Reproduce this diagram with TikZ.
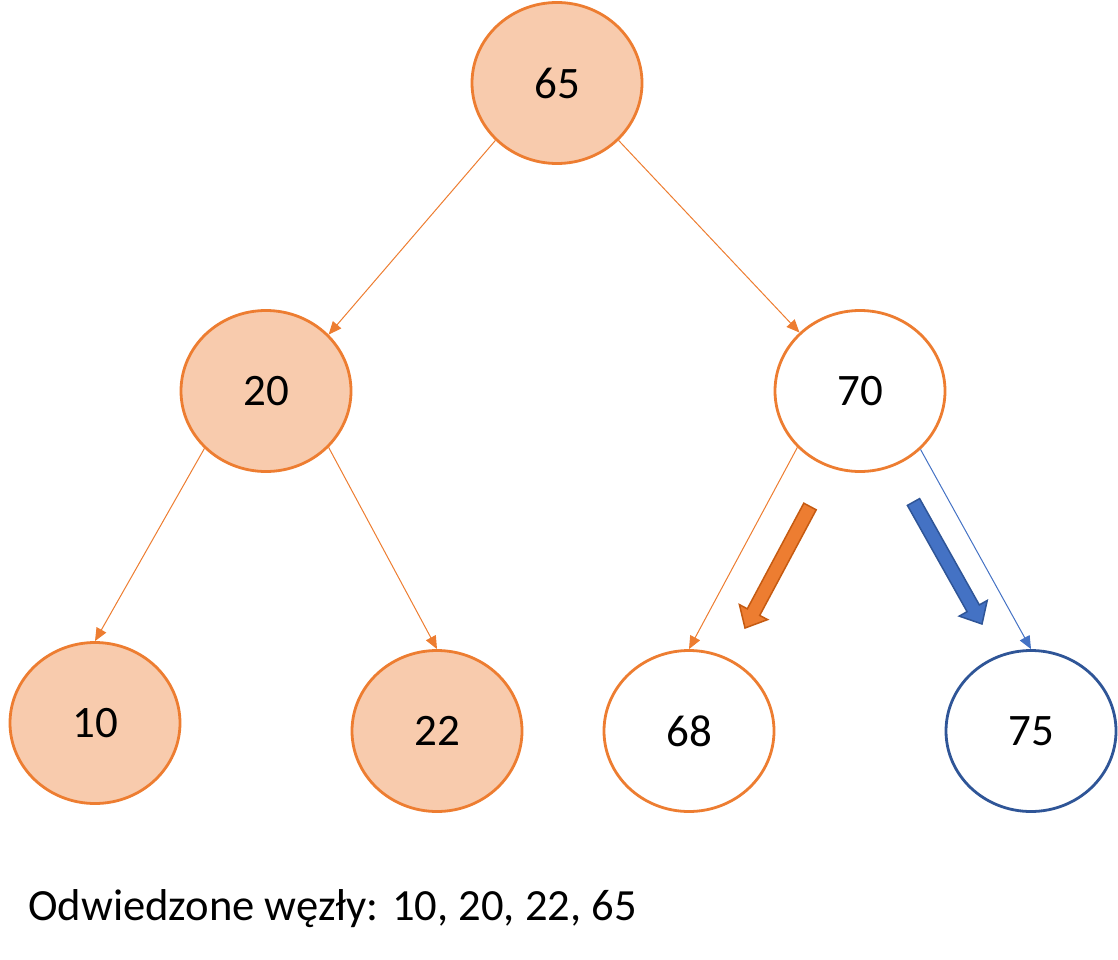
\documentclass[tikz,border=0pt]{standalone}
\usepackage{fontspec}
\setmainfont{Carlito}
\usetikzlibrary{arrows.meta,shapes.geometric}
\definecolor{orA}{HTML}{ED7D31}
\definecolor{orFill}{HTML}{F8CBAD}
\definecolor{orDark}{HTML}{C55A11}
\definecolor{blA}{HTML}{4472C4}
\definecolor{blDark}{HTML}{2F5597}
\tikzset{
  tnode/.style={ellipse, draw=orA, line width=2.8pt, minimum width=170pt, minimum height=161pt, inner sep=0pt, font=\fontsize{45}{50}\selectfont},
  visited/.style={tnode, fill=orFill},
  fresh/.style={tnode, fill=white},
  edge/.style={draw=orA, line width=1pt, -{Triangle[length=13pt,width=11pt]}},
  bedge/.style={edge, draw=blA},
}
\begin{document}
\begin{tikzpicture}[x=1pt,y=-1pt]
\useasboundingbox (0,0) rectangle (1118,960);
\node[visited] (n65) at (557,83) {65};
\node[visited] (n20) at (266,391) {20};
\node[fresh]   (n70) at (860,391) {70};
\node[visited] (n10) at (95,723) {10};
\node[visited] (n22) at (437,731) {22};
\node[fresh]   (n68) at (689,731) {68};
\node[fresh, draw=blDark] (n75) at (1031,731) {75};

\draw[edge] (n65.223.6) -- (n20.42.7);
\draw[edge] (n65.-43.6) -- (n70.136.4);
\draw[edge] (n20.223.6) -- (n10.90);
\draw[edge] (n20.-42.6) -- (n22.90);
\draw[edge] (n70.222.6) -- (n68.90);
\draw[bedge] (n70.-44) -- (n75.90);

% block arrows
\draw[fill=orA, draw=orDark, line width=1.5pt, line join=miter]
  (816.2,509.8) -- (759.7,615.4) -- (767.6,619.6) -- (745,628) -- (739.4,604.6) -- (747.3,608.8) -- (803.8,503.2) -- cycle;
\draw[fill=blA, draw=blDark, line width=1.5pt, line join=miter]
  (919.6,498.6) -- (979.3,604.9) -- (987.2,600.5) -- (982,624) -- (959.2,616.1) -- (967.1,611.7) -- (907.4,505.4) -- cycle;

\node[anchor=base west, inner sep=0pt, font=\fontsize{44.6}{50}\selectfont] (caption) at (28,920) {Odwiedzone węzły: 10, 20, 22, 65};
\end{tikzpicture}
\end{document}
